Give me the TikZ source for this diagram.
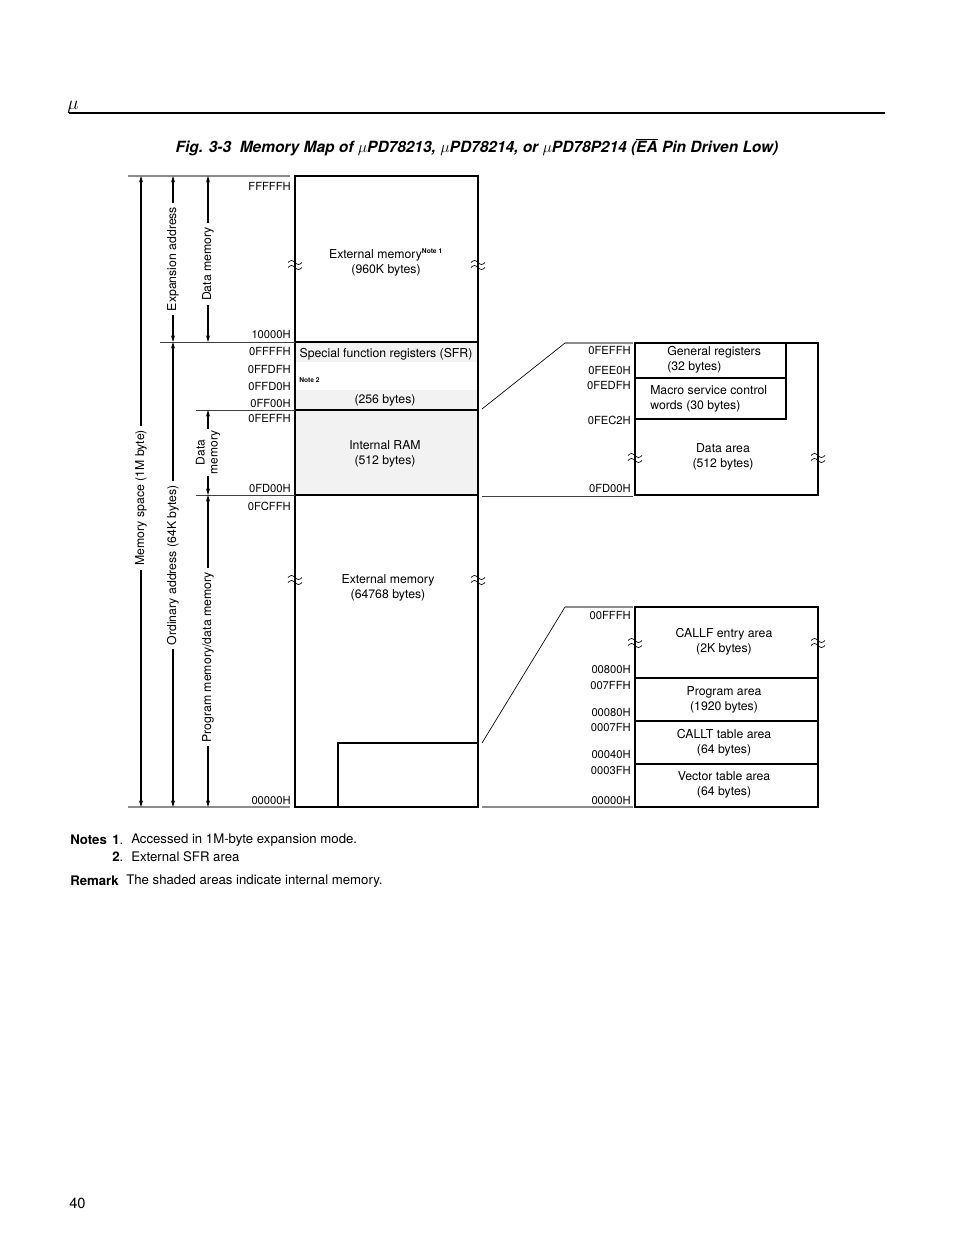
\documentclass[tikz,border=0pt]{standalone}
\usepackage{fontspec}
\setmainfont{TeX Gyre Heros}
\usetikzlibrary{arrows.meta,positioning}
\tikzset{
  >={Stealth[length=5pt,width=3pt]},
  font=\fontsize{9.2}{11.3}\selectfont,
  col/.style    ={line width=1.5pt},
  shd/.style    ={fill=black!5},
  addr/.style   ={anchor=east, inner sep=0pt, font=\fontsize{8.4}{10}\selectfont},
  txt/.style    ={align=center, inner sep=0pt},
  ltxt/.style   ={align=left, inner sep=0pt, anchor=west},
  dim/.style    ={<->, line width=0.8pt},
  dimlbl/.style ={rotate=90, fill=white, inner sep=3pt, align=center},
  guide/.style  ={line width=0.7pt, black!75},
  gguide/.style ={line width=0.9pt, black!45},
  zoomln/.style ={line width=0.5pt},
  note/.style   ={anchor=west, inner sep=0pt, font=\fontsize{9.9}{11}\selectfont},
  brk/.pic      ={\draw[line width=0.5pt] (-7,-2.5) sin (-3.5,-4.5) cos (0,-2.5) sin (3.5,-0.5) cos (7,-2.5)
                                          (-7,2.5) sin (-3.5,0.5) cos (0,2.5) sin (3.5,4.5) cos (7,2.5);},
}
\newcommand{\notemark}[1]{\textsuperscript{\bfseries\fontsize{5}{6}\selectfont #1}}

\begin{document}
\begin{tikzpicture}[x=0.75pt, y=-0.75pt]
  \useasboundingbox (0,0) rectangle (954,1235);

  % page head
  \node[anchor=west, inner sep=0pt, font=\fontsize{14}{15}\selectfont] (mu) at (67,107) {$\mu$};
  \coordinate (ruleL) at (69,113);
  \coordinate (ruleR) at (885,113);
  \draw[line width=2pt] (ruleL) -- (ruleR);
  \node[inner sep=0pt, font=\fontsize{11.6}{13}\selectfont\bfseries\itshape] (title) at (477,147)
    {Fig. 3-3\ \ Memory Map of $\mu$PD78213, $\mu$PD78214, or $\mu$PD78P214 ($\overline{\mbox{EA}}$ Pin Driven Low)};

  % shaded (internal) areas
  \fill[shd] (295,343) rectangle (478,362);
  \fill[shd] (295,390) rectangle (478,410);
  \fill[shd] (295,410) rectangle (478,495);

  % main column
  \draw[col] (295,176) rectangle (478,807);
  \draw[line width=0.8pt] (295,342) -- (478,342);
  \draw[col] (295,410) -- (478,410);
  \draw[col] (295,495) -- (478,495);
  \draw[col] (338,807) |- (478,743);

  \node[txt] (extmem) at (386,262) {External memory\notemark{Note 1}\\(960K bytes)};
  \node[txt] (sfr) at (386,354) {Special function registers (SFR)};
  \node[anchor=west, inner sep=0pt, font=\bfseries\fontsize{5}{6}\selectfont] (note2) at (299,380) {Note 2};
  \node[txt] (sfrsize) at (385,400) {(256 bytes)};
  \node[txt] (iram) at (385,454) {Internal RAM\\(512 bytes)};
  \node[txt] (extlow) at (388,588) {External memory\\(64768 bytes)};

  \pic at (295,265) {brk};
  \pic at (478,265) {brk};
  \pic at (295,580) {brk};
  \pic at (478,580) {brk};

  % addresses, main column
  \node[addr] (aF) at (291,186) {FFFFFH};
  \node[addr] (a10) at (291,334) {10000H};
  \node[addr] (aFFFF) at (291,351) {0FFFFH};
  \node[addr] (aFFDF) at (291,369) {0FFDFH};
  \node[addr] (aFFD0) at (291,386) {0FFD0H};
  \node[addr] (aFF00) at (291,403) {0FF00H};
  \node[addr] (aFEFF) at (291,418) {0FEFFH};
  \node[addr] (aFD00) at (291,488) {0FD00H};
  \node[addr] (aFCFF) at (291,506) {0FCFFH};
  \node[addr] (a0) at (291,800) {00000H};

  % guide lines
  \coordinate (gTop) at (128,176);
  \coordinate (gBot) at (128,807);
  \draw[gguide] (gTop) -- (290,176);
  \draw[gguide] (gBot) -- (290,807);
  \draw[guide] (160,342) -- (295,342);
  \draw[guide] (196,410) -- (295,410);
  \draw[guide] (196,495) -- (295,495);

  % dimension arrows
  \coordinate (msT) at (141,176);  \coordinate (msB) at (141,807);
  \coordinate (exT) at (173,176);  \coordinate (exB) at (173,342);
  \coordinate (orT) at (173,342);  \coordinate (orB) at (173,807);
  \coordinate (dmT) at (208,176);  \coordinate (dmB) at (208,342);
  \coordinate (d2T) at (208,410);  \coordinate (d2B) at (208,495);
  \coordinate (pdT) at (208,495);  \coordinate (pdB) at (208,807);
  \draw[dim] (msT) -- node[dimlbl, pos=0.51] {Memory space (1M byte)} (msB);
  \draw[dim] (exT) -- node[dimlbl] {Expansion address} (exB);
  \draw[dim] (orT) -- node[dimlbl, pos=0.48] {Ordinary address (64K bytes)} (orB);
  \draw[dim] (dmT) -- node[dimlbl, pos=0.53] {Data memory} (dmB);
  \draw[dim] (d2T) -- node[dimlbl, inner sep=1pt, font=\fontsize{9}{9.8}\selectfont] {Data\\memory} (d2B);
  \draw[dim] (pdT) -- node[dimlbl, pos=0.52] {Program memory/data memory} (pdB);

  % zoom-in of internal RAM
  \coordinate (zuA) at (482,409);
  \coordinate (zuB) at (565,343);
  \coordinate (zuC) at (633,343);
  \draw[zoomln] (zuA) -- (zuB);
  \draw[gguide] (zuB) -- (zuC);
  \draw[guide] (482,496) -- (633,496);

  \draw[col] (635,343) rectangle (818,495);
  \draw[col] (635,378) -| (786,343);
  \draw[col] (635,419) -| (786,378);
  \node[ltxt] (genreg) at (667,360) {General registers\\(32 bytes)};
  \node[ltxt] (macro) at (650,399) {Macro service control\\words (30 bytes)};
  \node[txt] (data) at (723,457) {Data area\\(512 bytes)};
  \pic at (635,458) {brk};
  \pic at (818,458) {brk};

  \node[addr] (bFEFF) at (631,350) {0FEFFH};
  \node[addr] (bFEE0) at (631,370) {0FEE0H};
  \node[addr] (bFEDF) at (631,385) {0FEDFH};
  \node[addr] (bFEC2) at (631,420) {0FEC2H};
  \node[addr] (bFD00) at (631,488) {0FD00H};

  % zoom-in of low 4K
  \coordinate (zlA) at (482,743);
  \coordinate (zlB) at (565,607);
  \coordinate (zlC) at (633,607);
  \draw[zoomln] (zlA) -- (zlB);
  \draw[gguide] (zlB) -- (zlC);
  \draw[gguide] (482,807) -- (633,807);

  \draw[col] (635,607) rectangle (818,807);
  \draw[col] (635,678) -- (818,678);
  \draw[col] (635,721) -- (818,721);
  \draw[col] (635,764) -- (818,764);
  \node[txt] (callf) at (724,642) {CALLF entry area\\(2K bytes)};
  \node[txt] (prog) at (724,700) {Program area\\(1920 bytes)};
  \node[txt] (callt) at (724,743) {CALLT table area\\(64 bytes)};
  \node[txt] (vect) at (724,785) {Vector table area\\(64 bytes)};
  \pic at (635,643) {brk};
  \pic at (818,643) {brk};

  \node[addr] (c0FFF) at (631,615) {00FFFH};
  \node[addr] (c0800) at (631,669) {00800H};
  \node[addr] (c07FF) at (631,685) {007FFH};
  \node[addr] (c0080) at (631,712) {00080H};
  \node[addr] (c007F) at (631,727) {0007FH};
  \node[addr] (c0040) at (631,754) {00040H};
  \node[addr] (c003F) at (631,770) {0003FH};
  \node[addr] (c0000) at (631,800) {00000H};

  % notes
  \node[note] (notes) at (70,840) {\textbf{Notes}};
  \node[note] (n1num) at (112,840) {\textbf{1}.};
  \node[note] (n1) at (131,840) {Accessed in 1M-byte expansion mode.};
  \node[note] (n2num) at (112,857) {\textbf{2}.};
  \node[note] (n2) at (131,857) {External SFR area};
  \node[note] (remark) at (70,881) {\textbf{Remark}};
  \node[note] (rem) at (126,881) {The shaded areas indicate internal memory.};

  \node[anchor=west, inner sep=0pt, font=\fontsize{11}{12}\selectfont] (page) at (69,1203) {40};
\end{tikzpicture}
\end{document}
